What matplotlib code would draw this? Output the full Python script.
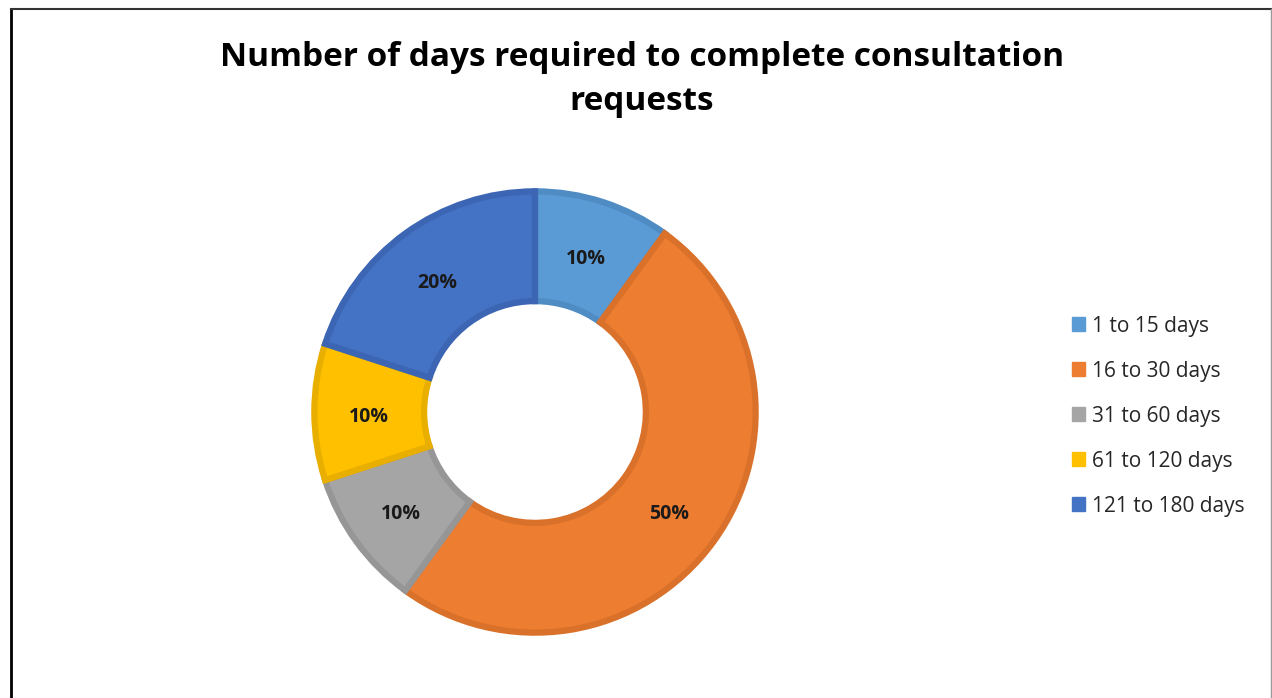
import numpy as np
import matplotlib.pyplot as plt
import matplotlib.lines as lines
import matplotlib.patches as mpatches

categories = ['1 to 15 days', '16 to 30 days', '31 to 60 days', '61 to 120 days', '121 to 180 days']
shares = [10, 50, 10, 10, 20]
colors = ['#5B9BD5', '#ED7D31', '#A5A5A5', '#FFC000', '#4472C4']
edges = ['#4F8CC4', '#D9712A', '#969696', '#E8AE00', '#3C66B3']

W, H = 1272, 698
fig = plt.figure(figsize=(W / 100, H / 100), dpi=100)

# donut centred at (535, 412) px, outer radius ~224 px
cx, cy, r = 535, 412, 224
ax = fig.add_axes([(cx - r) / W, (H - cy - r) / H, 2 * r / W, 2 * r / H])
wedges, _ = ax.pie(shares, colors=colors, startangle=90, counterclock=False,
                   radius=0.985, wedgeprops=dict(width=0.49, linewidth=4.5))
for w, ec in zip(wedges, edges):
    w.set_edgecolor(ec)
    w.set_joinstyle('miter')

# percentage labels on the middle of the ring (sit a touch low, as in the original)
start = 90.0
for s in shares:
    mid = np.deg2rad(start - s * 3.6 / 2)
    start -= s * 3.6
    ax.text(0.74 * np.cos(mid), 0.74 * np.sin(mid) - 0.022, f'{s}%', ha='center', va='center',
            fontsize=14, fontweight='bold', color='#1a1a1a', family='Open Sans')
ax.set_xlim(-1, 1)
ax.set_ylim(-1, 1)
ax.set_axis_off()

fig.text(642 / W, 1 - 57 / H, 'Number of days required to complete consultation',
         ha='center', va='center', fontsize=24, fontweight='bold', family='Open Sans')
fig.text(642 / W, 1 - 101 / H, 'requests',
         ha='center', va='center', fontsize=24, fontweight='bold', family='Open Sans')

handles = [mpatches.Patch(facecolor=c, edgecolor=c) for c in colors]
leg = fig.legend(handles, categories, loc='upper left', bbox_to_anchor=(1053 / W, 1 - 297 / H),
                 frameon=False, handlelength=0.65, handleheight=0.65, handletextpad=0.3,
                 labelspacing=1.15, prop={'family': 'Open Sans', 'size': 15})
for t in leg.get_texts():
    t.set_color('#262626')

# chart border
fig.add_artist(lines.Line2D([11 / W, 11 / W], [0, 1 - 9 / H], color='black', lw=2))
fig.add_artist(lines.Line2D([11 / W, 1271 / W], [1 - 9 / H, 1 - 9 / H], color='#333333', lw=1.5))
fig.add_artist(lines.Line2D([1270.5 / W, 1270.5 / W], [0, 1 - 9 / H], color='#999999', lw=1))

fig.savefig('out.png', dpi=100)
